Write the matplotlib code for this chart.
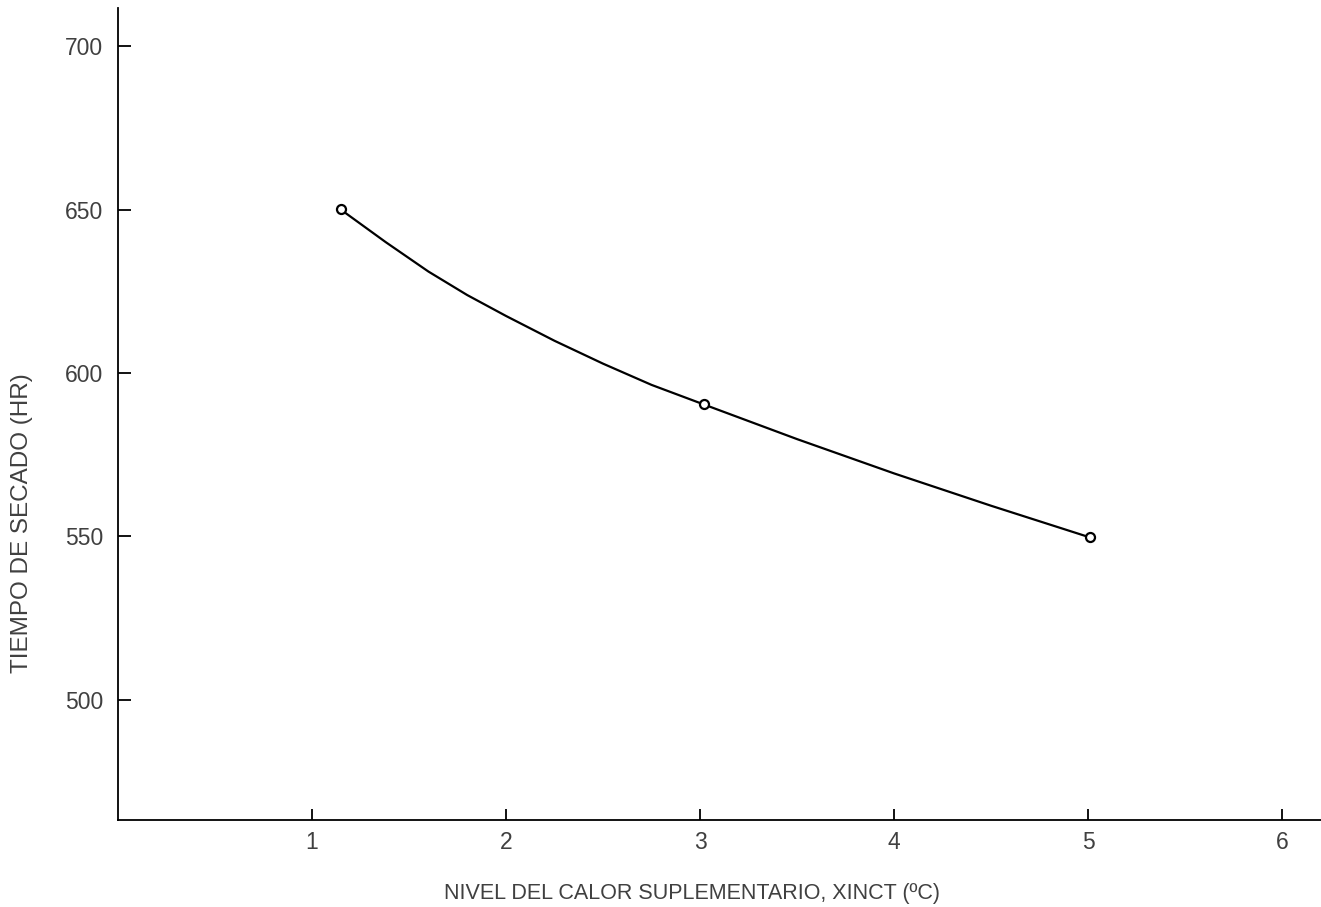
import matplotlib
matplotlib.use("Agg")
import matplotlib.pyplot as plt

plt.rcParams['font.family'] = ['Liberation Sans', 'DejaVu Sans']

# ---------------------------------------------------------------------------
# Data
# ---------------------------------------------------------------------------
xinct = [1.15, 3.02, 5.01]          # measured points
tiempo = [650.3, 590.5, 549.8]

# hand-drawn smooth curve
curve_x = [1.15, 1.38, 1.60, 1.80, 2.00, 2.25, 2.50, 2.75, 3.02, 3.50,
           4.00, 4.50, 5.01]
curve_y = [650.0, 640.1, 631.1, 623.9, 617.5, 609.9, 602.9, 596.4, 590.4,
           579.8, 569.3, 559.4, 549.7]

xticks = [1, 2, 3, 4, 5, 6]
yticks = [500, 550, 600, 650, 700]

TEXT = "#404040"

# ---------------------------------------------------------------------------
# Figure
# ---------------------------------------------------------------------------
fig = plt.figure(figsize=(13.21, 9.07), dpi=100)
ax = fig.add_axes([0.0893, 0.0959, 0.9107, 0.895])

ax.plot(curve_x, curve_y, color="black", linewidth=1.6, zorder=2)
ax.plot(xinct, tiempo, linestyle="none", marker="o", markersize=6.5,
        markerfacecolor="white", markeredgecolor="black",
        markeredgewidth=1.6, zorder=3)

ax.set_xlim(0, 6.2)
ax.set_ylim(463.2, 711.7)

ax.set_xticks(xticks)
ax.set_yticks(yticks)
ax.tick_params(axis="both", direction="in", width=1.3,
               colors="black", labelcolor=TEXT, labelsize=16.5)
ax.tick_params(axis="x", length=8, pad=8)
ax.tick_params(axis="y", length=9, pad=10.5)

for side in ("top", "right"):
    ax.spines[side].set_visible(False)
for side in ("left", "bottom"):
    ax.spines[side].set_linewidth(1.3)

fig.text(692 / 1321, 1 - 893 / 907,
         "NIVEL DEL CALOR SUPLEMENTARIO, XINCT (ºC)",
         ha="center", va="center", fontsize=15.5, color=TEXT)
fig.text(22 / 1321, 1 - 523 / 907, "TIEMPO DE SECADO (HR)",
         ha="center", va="center", rotation=90, fontsize=17.5, color=TEXT)

fig.savefig("out.png", dpi=100, facecolor="white")
